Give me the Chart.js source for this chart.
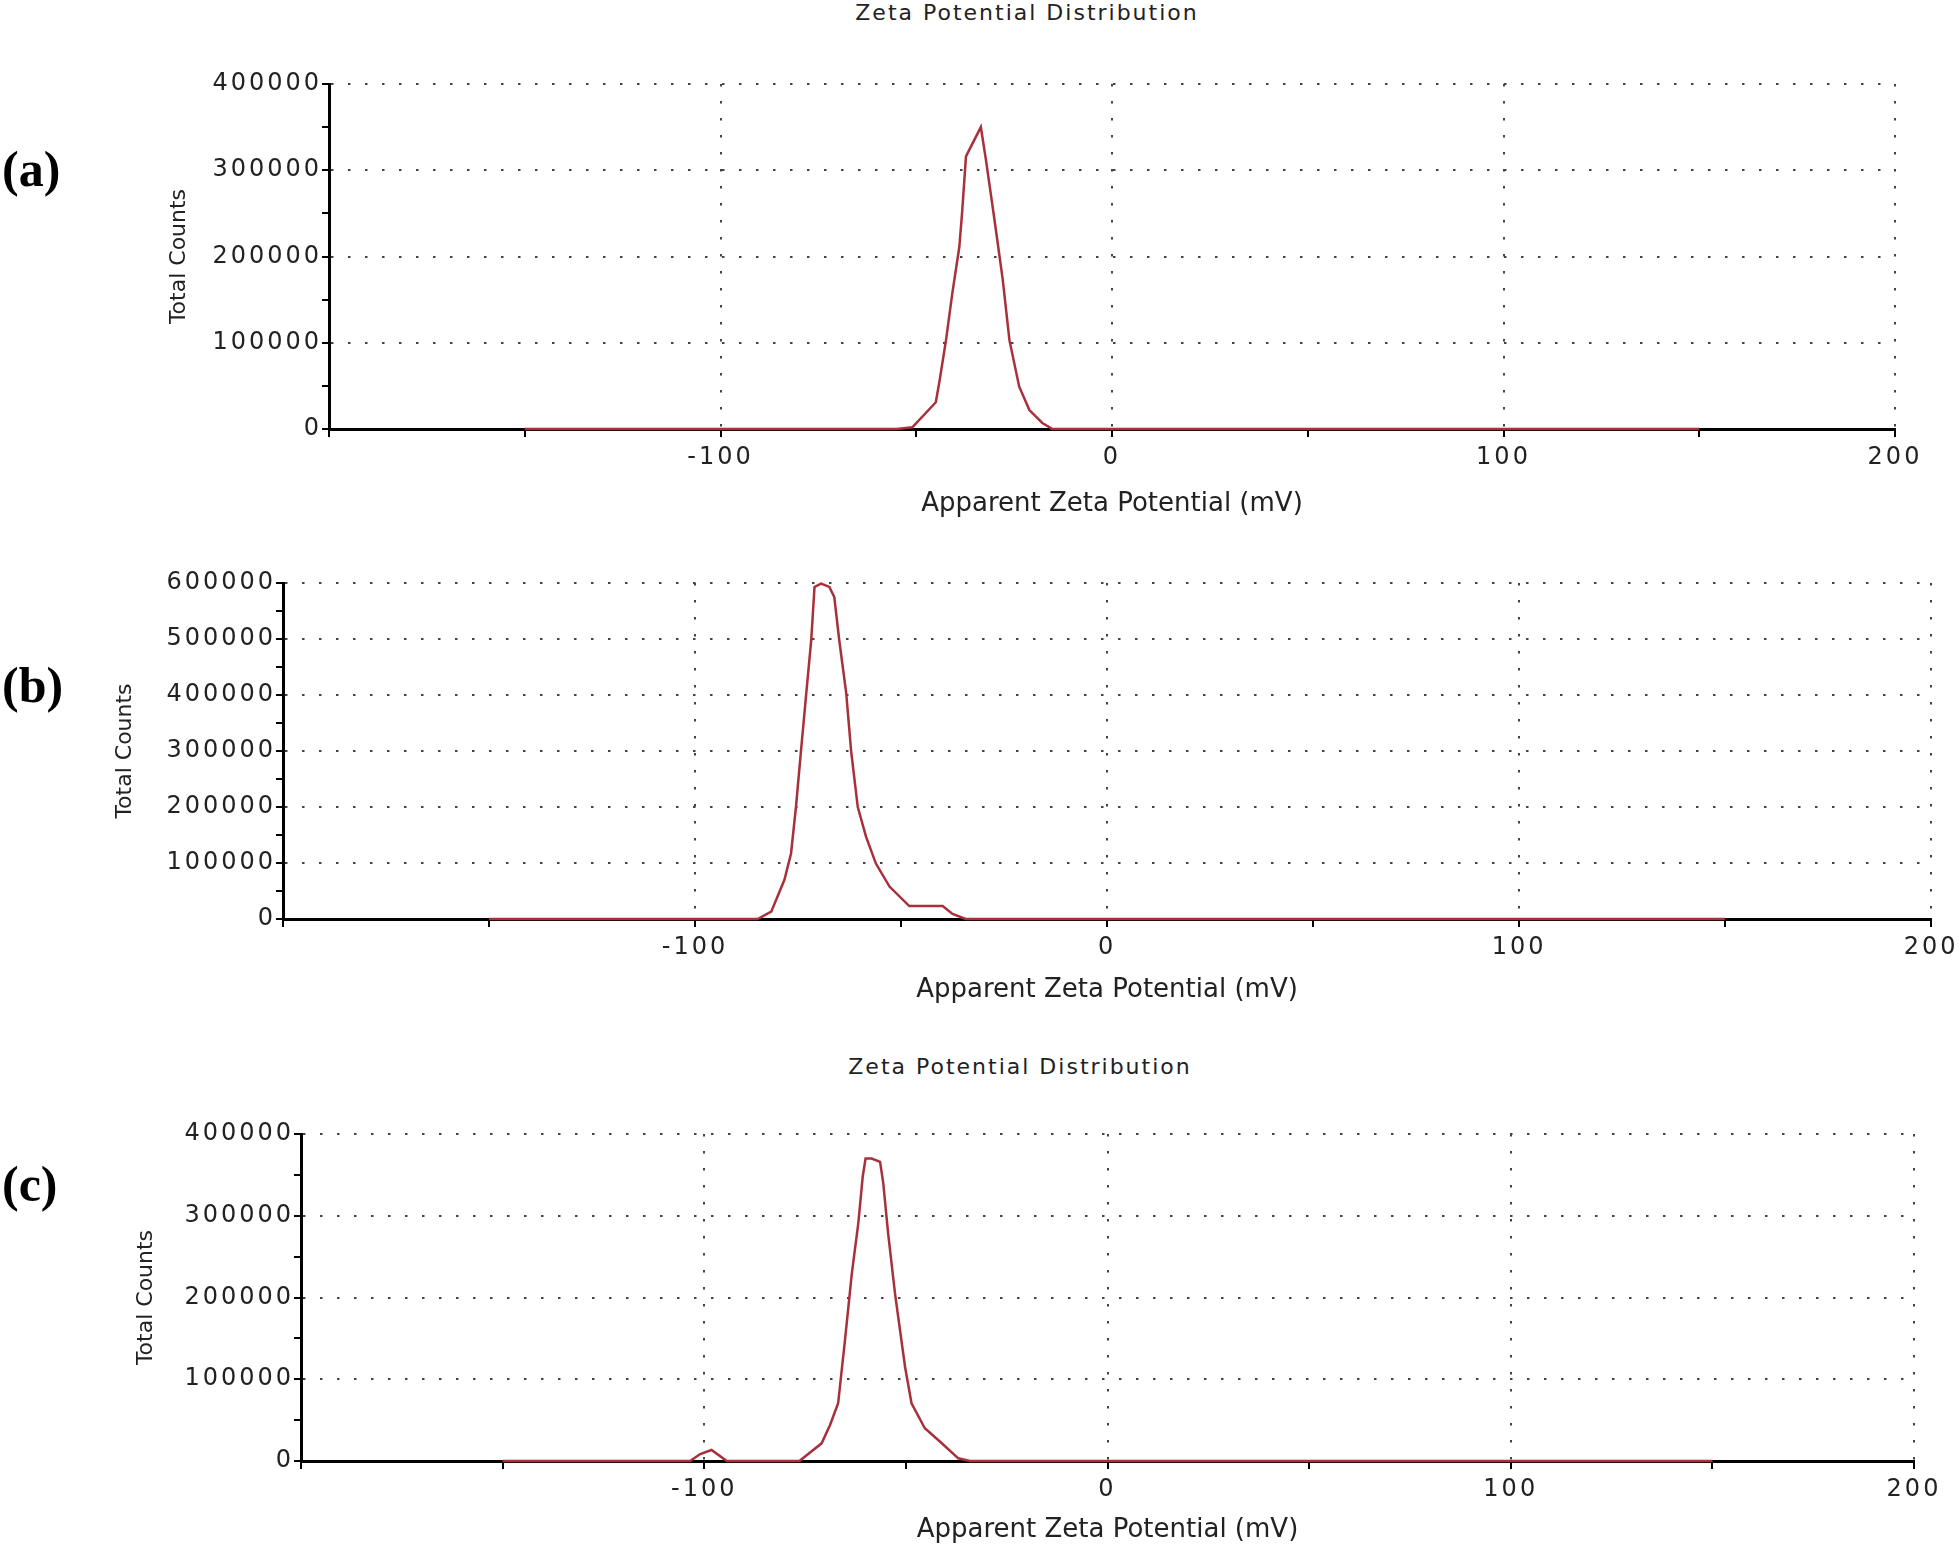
<!DOCTYPE html>
<html lang="en">
<head>
<meta charset="UTF-8">
<title>Zeta Potential Distribution</title>
<script src="https://cdn.jsdelivr.net/npm/chart.js@4.4.1/dist/chart.umd.min.js"></script>
<style>
    body { margin: 0; background: #fff; }
    #page { position: relative; width: 1960px; height: 1548px; overflow: hidden; font-family: "DejaVu Sans", sans-serif; color: #222; }
    canvas { position: absolute; left: 0; }
    .title { position: absolute; font-size: 22px; letter-spacing: 2px; line-height: 26px; transform: translateX(-50%); white-space: nowrap; }
    .panel { position: absolute; left: 2px; font: bold 50px "Liberation Serif", serif; line-height: 56px; color: #000; }
</style>
</head>
<body>
<div id="page">
    <div class="title" style="left: 1027px; top: 0px;">Zeta Potential Distribution</div>
    <div class="title" style="left: 1020px; top: 1054px;">Zeta Potential Distribution</div>
    <div class="panel" style="top: 141px;">(a)</div>
    <div class="panel" style="top: 657px;">(b)</div>
    <div class="panel" style="top: 1156px;">(c)</div>

    <canvas id="chart-a" width="1960" height="530" style="top: 0px"></canvas>
    <canvas id="chart-b" width="1960" height="490" style="top: 530px"></canvas>
    <canvas id="chart-c" width="1960" height="528" style="top: 1020px"></canvas>
</div>

<script>
    // values (mV, total counts)
    const zetaA = [-150, -55, -51, -45, -44, -42.4, -40.8, -39, -38.3, -37.3, -33.5, -32.2, -30, -27.9, -26.2, -23.7, -21.1, -17.8, -15.2, 150];
    const countsA = [0, 0, 2000, 31000, 57000, 103000, 157000, 211000, 250000, 316000, 350000, 312000, 242000, 173000, 103000, 49000, 22000, 7000, 0, 0];

    const zetaB = [-150, -84.8, -81.5, -78.3, -76.7, -75.5, -74.3, -73.0, -71.8, -71.0, -69.4, -67.4, -66.2, -65.0, -63.3, -62.1, -60.5, -58.5, -56.1, -52.8, -48, -39.9, -37.5, -34.3, 150];
    const countsB = [0, 0, 13000, 70000, 117000, 200000, 299000, 403000, 498000, 593000, 599000, 593000, 575000, 498000, 403000, 299000, 200000, 147000, 99000, 58000, 23000, 23000, 9000, 0, 0];

    const zetaC = [-150, -103.5, -101, -98.2, -94.4, -76.4, -70.9, -68.8, -66.8, -65.1, -63.4, -61.8, -60.7, -60.0, -58.5, -56.4, -55.6, -54.4, -52.7, -50.2, -48.6, -45.3, -41.5, -37.0, -34.1, 150];
    const countsC = [0, 0, 8500, 13500, 0, 0, 21600, 44000, 70600, 148000, 229600, 290700, 347800, 370000, 370000, 366000, 339700, 278500, 205000, 115000, 70600, 40000, 23600, 3300, 0, 0];

    const xLabels = [-100, 0, 100, 200];
    const yMaxA = 400000;
    const yMaxB = 600000;
    const yMaxC = 400000;

    const lineColor = 'rgb(168, 48, 58)';
    const gridColor = '#444';
    const tickFont = { family: 'DejaVu Sans', size: 24 };
    const xTitleFont = { family: 'DejaVu Sans', size: 26 };
    const yTitleFont = { family: 'DejaVu Sans', size: 22 };

    // tick labels are drawn after the datasets (z: 1), so they get the wide spacing only
    const tickSpacing = {
        id: 'tickSpacing',
        beforeDraw(chart) { chart.ctx.letterSpacing = '0px'; },
        afterDatasetsDraw(chart) { chart.ctx.letterSpacing = '3px'; }
    };

    function makeChart(id, zeta, counts, yMax, g) {
        const canvas = document.getElementById(id);
        const W = canvas.width, H = canvas.height;
        const yLH = yTitleFont.size * 1.2, xLH = xTitleFont.size * 1.2;
        const padLeft = g.yTitleX - yLH / 2;
        const padBottom = H - (g.xTitleY + xLH / 2 + 4);
        const points = zeta.map((z, i) => ({ x: z, y: counts[i] }));

        return new Chart(canvas, {
            type: 'line',
            data: {
                datasets: [{
                    data: points,
                    borderColor: lineColor,
                    borderWidth: 2.5,
                    pointRadius: 0,
                    tension: 0,
                    clip: false
                }]
            },
            options: {
                responsive: false,
                animation: false,
                devicePixelRatio: 1,
                layout: {
                    padding: { left: padLeft, right: W - g.right, top: g.top, bottom: padBottom }
                },
                plugins: { legend: { display: false }, tooltip: { enabled: false } },
                scales: {
                    x: {
                        type: 'linear',
                        min: -200,
                        max: 200,
                        afterFit: s => { s.height = H - padBottom - g.bottom; },
                        ticks: {
                            stepSize: 50,
                            autoSkip: false,
                            maxRotation: 0,
                            padding: 6,
                            z: 1,
                            color: '#222',
                            font: tickFont,
                            callback: v => xLabels.includes(v) ? String(v) : ''
                        },
                        grid: {
                            color: c => (c.tick && xLabels.includes(c.tick.value)) ? gridColor : 'rgba(0,0,0,0)',
                            lineWidth: 2,
                            tickColor: '#000',
                            tickLength: 8,
                            tickWidth: 2
                        },
                        border: { color: '#000', width: 3, dash: [2.5, 14.5] },
                        title: {
                            display: true,
                            text: 'Apparent Zeta Potential (mV)',
                            color: '#222',
                            font: xTitleFont,
                            padding: { top: 0, bottom: 4 }
                        }
                    },
                    y: {
                        min: 0,
                        max: yMax,
                        afterFit: s => { s.width = g.left - padLeft; },
                        ticks: {
                            stepSize: 50000,
                            autoSkip: false,
                            padding: 0,
                            z: 1,
                            color: '#222',
                            font: tickFont,
                            callback: v => v % 100000 === 0 ? String(v) : ''
                        },
                        grid: {
                            color: c => (c.tick && c.tick.value > 0 && c.tick.value % 100000 === 0) ? gridColor : 'rgba(0,0,0,0)',
                            lineWidth: 2,
                            tickColor: '#000',
                            tickLength: 7,
                            tickWidth: 2
                        },
                        border: { color: '#000', width: 3, dash: [2.5, 14.5] },
                        title: {
                            display: true,
                            text: 'Total Counts',
                            color: '#222',
                            font: yTitleFont,
                            padding: { top: 0, bottom: 0 }
                        }
                    }
                }
            },
            plugins: [tickSpacing]
        });
    }

    makeChart('chart-a', zetaA, countsA, yMaxA, { left: 329, right: 1895, top: 84, bottom: 429, yTitleX: 179, xTitleY: 504 });
    makeChart('chart-b', zetaB, countsB, yMaxB, { left: 283, right: 1933, top: 53, bottom: 389, yTitleX: 125, xTitleY: 460 });
    makeChart('chart-c', zetaC, countsC, yMaxC, { left: 301, right: 1914, top: 114, bottom: 441, yTitleX: 146, xTitleY: 510 });
</script>
</body>
</html>
